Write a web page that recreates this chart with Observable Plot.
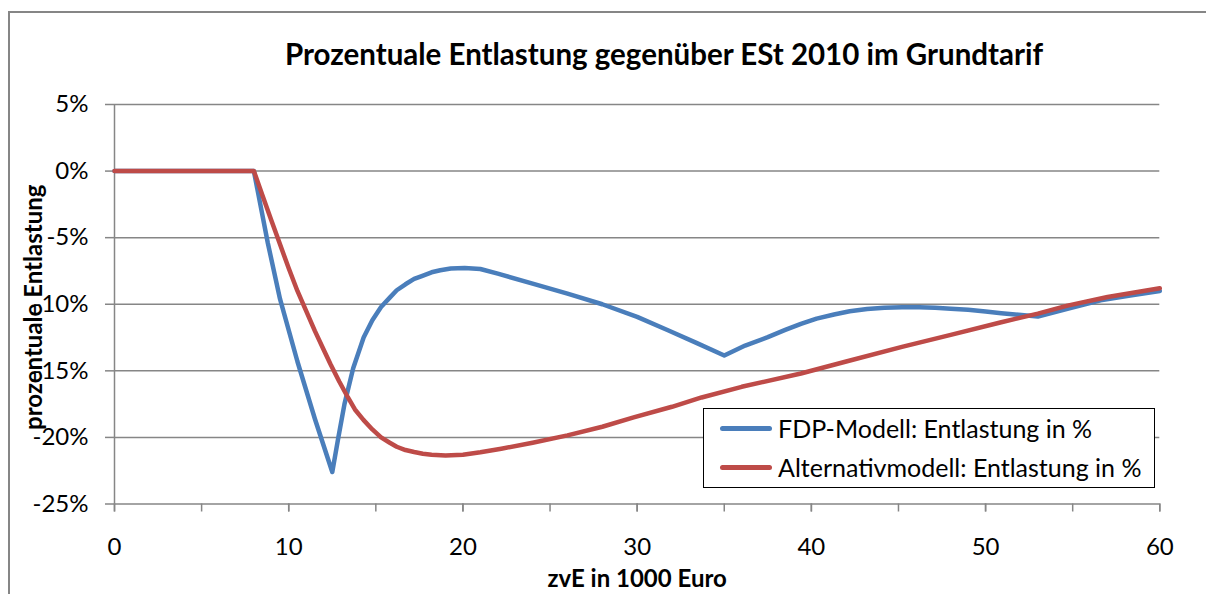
<!DOCTYPE html>
<html>
<head>
<meta charset="utf-8">
<script src="https://cdn.jsdelivr.net/npm/d3@7"></script>
<script src="https://cdn.jsdelivr.net/npm/@observablehq/plot@0.6"></script>
<style>
  body { margin: 0; background: #fff; font-family: Lato, "Open Sans", sans-serif; }
  #chart { position: relative; width: 1206px; height: 594px; overflow: hidden; background: #fff; }
  #frame { position: absolute; left: 8px; top: 11px; width: 1300px; height: 700px; border-left: 2px solid #868686; border-top: 2px solid #868686; }
  #title { position: absolute; left: 664px; top: 35px; transform: translateX(-50%); white-space: nowrap; font-weight: bold; font-size: 29.5px; color: #000; line-height: 38px; }
  #plot { position: absolute; left: 0; top: 80px; }
  #legend { position: absolute; left: 703px; top: 408px; width: 450px; height: 78px; border: 1.5px solid #000; background: #fff; font-size: 25px; }
  .item { position: absolute; left: 16px; height: 30px; display: flex; align-items: center; white-space: nowrap; }
  .sw { width: 52px; height: 5px; border-radius: 3px; margin-right: 6px; }
</style>
</head>
<body>
<div id="chart">
  <div id="frame"></div>
  <div id="title"></div>
  <div id="plot"></div>
  <div id="legend"></div>
</div>
<script>
// ---- data ----
const title = "Prozentuale Entlastung gegenüber ESt 2010 im Grundtarif";
const xLabel = "zvE in 1000 Euro";
const yLabel = "prozentuale Entlastung";
const seriesNames = ["FDP-Modell: Entlastung in %", "Alternativmodell: Entlastung in %"];
const seriesColors = ["#4a7ebb", "#be4b48"];

const yTicks = [-25, -20, -15, -10, -5, 0, 5];
const xLabelTicks = [0, 10, 20, 30, 40, 50, 60];
const xMinorTicks = [0, 5, 10, 15, 20, 25, 30, 35, 40, 45, 50, 55, 60];

// FDP-Modell (zvE in 1000 Euro, Entlastung in %)
const fdpX = [0, 8, 8.8, 9.5, 10.5, 11.5, 12.5, 12.85, 13.2, 13.7, 14.3, 14.8, 15.3, 15.8, 16.2, 16.7, 17.2, 17.6, 18.2, 18.7, 19.3, 20.1, 21.0, 22.0, 24.0, 26.0, 28.0, 30.0, 31.8, 33.4, 35.0, 36.2, 37.5, 38.5, 39.4, 40.3, 41.3, 42.2, 43.2, 44.2, 45.2, 46.2, 47.1, 48.0, 49.0, 50.0, 50.9, 53.0, 54.7, 56.6, 58.3, 60.0];
const fdpY = [0, 0, -5.4, -9.6, -14.3, -18.6, -22.6, -20.0, -17.5, -14.8, -12.5, -11.2, -10.2, -9.5, -8.95, -8.5, -8.1, -7.9, -7.6, -7.45, -7.32, -7.27, -7.35, -7.7, -8.45, -9.2, -10.0, -10.95, -11.97, -12.9, -13.85, -13.1, -12.47, -11.93, -11.47, -11.08, -10.77, -10.53, -10.35, -10.26, -10.22, -10.23, -10.27, -10.33, -10.42, -10.54, -10.67, -10.92, -10.35, -9.7, -9.35, -9.0];

// Alternativmodell
const altX = [0, 8, 8.5, 9.0, 9.5, 10.0, 10.5, 11.0, 11.5, 12.0, 12.4, 12.9, 13.4, 13.8, 14.3, 14.8, 15.3, 15.8, 16.2, 16.7, 17.2, 17.7, 18.2, 19.0, 20.0, 21.0, 22.2, 24.0, 26.0, 28.0, 29.8, 32.0, 33.7, 36.0, 39.4, 42.0, 45.2, 48.0, 50.9, 53.0, 54.7, 57.0, 60.0];
const altY = [0, 0, -1.85, -3.7, -5.5, -7.3, -9.0, -10.5, -12.0, -13.4, -14.5, -15.8, -17.0, -17.9, -18.7, -19.4, -20.0, -20.4, -20.7, -20.95, -21.1, -21.22, -21.3, -21.35, -21.3, -21.12, -20.85, -20.4, -19.85, -19.2, -18.5, -17.7, -17.0, -16.2, -15.2, -14.3, -13.2, -12.3, -11.35, -10.7, -10.1, -9.45, -8.8];

const fdp = fdpX.map((x, i) => ({x, y: fdpY[i]}));
const alt = altX.map((x, i) => ({x, y: altY[i]}));

// ---- chart ----
document.getElementById("title").textContent = title;

const gray = "#868686";
const plot = Plot.plot({
  width: 1206,
  height: 514,
  marginTop: 24,
  marginBottom: 90.5,
  marginLeft: 114,
  marginRight: 46.7,
  x: {domain: [0, 60]},
  y: {domain: [-25, 5]},
  style: {fontFamily: "Lato, 'Open Sans', sans-serif", fontSize: "24px", color: "#000", background: "transparent", overflow: "visible"},
  marks: [
    Plot.gridY(yTicks, {stroke: gray, strokeOpacity: 1, strokeWidth: 1.5}),
    Plot.ruleX([0], {y1: -25, y2: 5, stroke: gray, strokeWidth: 1.5}),
    Plot.axisY(yTicks, {tickSize: 9, tickPadding: 17, tickFormat: d => d + "%", stroke: gray, strokeWidth: 1.5, label: null, fontSize: 24, fill: "#000"}),
    Plot.axisX(xMinorTicks, {tickSize: 8, stroke: gray, strokeWidth: 1.5, text: null, label: null}),
    Plot.axisX(xLabelTicks, {tickSize: 8, tickPadding: 26, stroke: gray, strokeWidth: 1.5, label: null, fontSize: 24, fill: "#000"}),
    Plot.line(fdp, {x: "x", y: "y", stroke: seriesColors[0], strokeWidth: 4.5, strokeLinecap: "round", strokeLinejoin: "round"}),
    Plot.line(alt, {x: "x", y: "y", stroke: seriesColors[1], strokeWidth: 4.5, strokeLinecap: "round", strokeLinejoin: "round"}),
    Plot.text([yLabel], {frameAnchor: "left", textAnchor: "middle", dx: -80, dy: 3, rotate: -90, fontWeight: "bold", fontSize: 24, fill: "#000"}),
    Plot.text([xLabel], {frameAnchor: "bottom", textAnchor: "middle", dy: 83, fontWeight: "bold", fontSize: 24, fill: "#000"})
  ]
});
document.getElementById("plot").appendChild(plot);

// legend
const legend = document.getElementById("legend");
seriesNames.forEach((name, i) => {
  const item = document.createElement("div");
  item.className = "item";
  item.style.top = (i === 0 ? 4 : 43) + "px";
  const sw = document.createElement("div");
  sw.className = "sw";
  sw.style.background = seriesColors[i];
  const t = document.createElement("span");
  t.textContent = name;
  item.appendChild(sw);
  item.appendChild(t);
  legend.appendChild(item);
});
</script>
</body>
</html>
